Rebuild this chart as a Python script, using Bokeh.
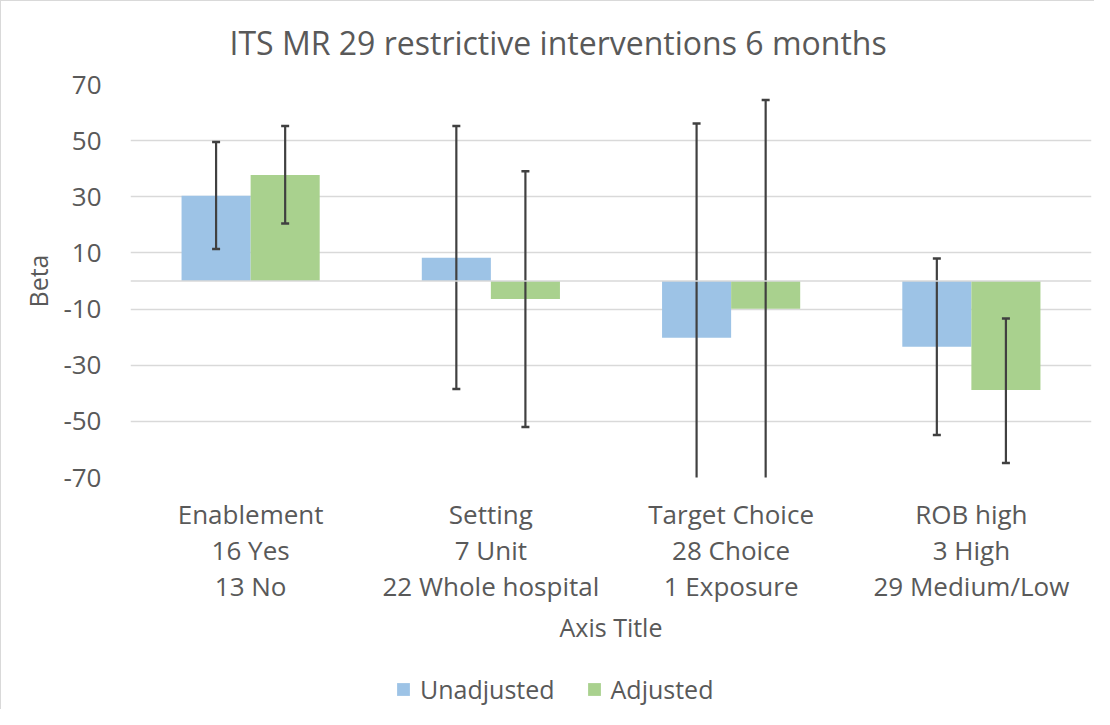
from bokeh.plotting import figure
from bokeh.layouts import column
from bokeh.models import (ColumnDataSource, FactorRange, FixedTicker, Legend, LegendItem,
                          Range1d, Span, PrintfTickFormatter)
from bokeh.transform import dodge
from bokeh.embed import file_html
from bokeh.resources import INLINE

# ---- data ----
categories = [
    "Enablement\n16 Yes\n13 No",
    "Setting\n7 Unit\n22 Whole hospital",
    "Target Choice\n28 Choice\n1 Exposure",
    "ROB high\n3 High\n29 Medium/Low",
]
unadjusted = [30.4, 8.3, -20.2, -23.4]
unadj_upper = [49.5, 55.2, 56.1, 8.0]
unadj_lower = [11.4, -38.5, -96.5, -54.9]
adjusted = [37.8, -6.4, -9.9, -38.8]
adj_upper = [55.2, 39.1, 64.5, -13.4]
adj_lower = [20.5, -52.0, -84.3, -64.8]
y_ticks = [-70, -50, -30, -10, 10, 30, 50, 70]
series_names = ["Unadjusted", "Adjusted"]

FONT = "Open Sans"
TXT = "#595959"
BLUE = "#9DC3E6"
GREEN = "#A9D18E"
ERR = "#404040"
GRID = "#D9D9D9"

src = ColumnDataSource(dict(
    cat=categories, unadj=unadjusted, uup=unadj_upper, ulo=unadj_lower,
    adj=adjusted, aup=adj_upper, alo=adj_lower,
))

p = figure(
    width=1094, height=669,
    x_range=FactorRange(factors=categories, range_padding=0),
    y_range=Range1d(-70, 70),
    output_backend="svg", toolbar_location=None,
    min_border_left=129, min_border_right=4, min_border_top=80, min_border_bottom=193,
)
p.outline_line_color = None
p.background_fill_color = "white"
p.border_fill_color = "white"
p.styles = {"border-top": "1px solid #D9D9D9", "border-left": "1px solid #D9D9D9"}

# title
p.title.text = "ITS MR 29 restrictive interventions 6 months"
p.title.text_font = FONT
p.title.text_font_size = "32px"
p.title.text_font_style = "normal"
p.title.text_color = TXT
p.title.text_line_height = 0.75
p.title.align = "left"
p.title.offset = 99
p.title.vertical_align = "top"
p.title.standoff = 38

# bars
BW = 0.2875
r1 = p.vbar(x=dodge("cat", -BW / 2, range=p.x_range), top="unadj", bottom=0, width=BW,
            source=src, fill_color=BLUE, line_color=None)
r2 = p.vbar(x=dodge("cat", BW / 2, range=p.x_range), top="adj", bottom=0, width=BW,
            source=src, fill_color=GREEN, line_color=None)

# zero line
p.add_layout(Span(location=0, dimension="width", line_color=GRID, line_width=1.5))

# error bars
for off, up, lo in [(-BW / 2, "uup", "ulo"), (BW / 2, "aup", "alo")]:
    xd = dodge("cat", off, range=p.x_range)
    p.segment(x0=xd, y0=lo, x1=xd, y1=up, source=src, line_color=ERR, line_width=2.2)
    p.scatter(x=xd, y=up, source=src, marker="dash", size=8, line_color=ERR, line_width=2.5)
    p.scatter(x=xd, y=lo, source=src, marker="dash", size=8, line_color=ERR, line_width=2.5)

# axes
p.yaxis.ticker = FixedTicker(ticks=y_ticks)
p.yaxis.formatter = PrintfTickFormatter(format="%d")
p.yaxis.axis_line_color = None
p.yaxis.major_tick_line_color = None
p.yaxis.minor_tick_line_color = None
p.yaxis.major_tick_out = 0
p.yaxis.major_tick_in = 0
p.yaxis.major_label_standoff = 29
p.yaxis.major_label_text_font = FONT
p.yaxis.major_label_text_font_size = "26px"
p.yaxis.major_label_text_color = TXT
p.yaxis.axis_label = "Beta"
p.yaxis.axis_label_text_font = FONT
p.yaxis.axis_label_text_font_size = "25px"
p.yaxis.axis_label_text_font_style = "normal"
p.yaxis.axis_label_text_color = TXT
p.yaxis.axis_label_standoff = 5

p.xaxis.axis_line_color = None
p.xaxis.major_tick_line_color = None
p.xaxis.minor_tick_line_color = None
p.xaxis.major_tick_out = 0
p.xaxis.major_tick_in = 0
p.xaxis.major_label_standoff = 18
p.xaxis.major_label_text_font = FONT
p.xaxis.major_label_text_font_size = "26px"
p.xaxis.major_label_text_color = TXT
p.xaxis.major_label_text_line_height = 1.0
p.xaxis.axis_label = "Axis Title"
p.xaxis.axis_label_text_font = FONT
p.xaxis.axis_label_text_font_size = "25px"
p.xaxis.axis_label_text_font_style = "normal"
p.xaxis.axis_label_text_color = TXT
p.xaxis.axis_label_standoff = 3

p.xgrid.grid_line_color = None
p.ygrid.grid_line_color = GRID
p.ygrid.grid_line_width = 1.5

# legend strip (separate small figure below the chart; its frame aligns with the chart's)
lf = figure(width=1094, height=40, x_range=Range1d(0, 1), y_range=Range1d(0, 1),
            output_backend="svg", toolbar_location=None,
            min_border_left=0, min_border_right=0, min_border_top=0, min_border_bottom=0)
lf.axis.visible = False
lf.grid.grid_line_color = None
lf.outline_line_color = None
lf.border_fill_color = "white"
lf.styles = {"border-left": "1px solid #D9D9D9"}
lr1 = lf.vbar(x=[-10], top=[-10], width=0.1, fill_color=BLUE, line_color=None)
lr2 = lf.vbar(x=[-10], top=[-10], width=0.1, fill_color=GREEN, line_color=None)
legend = Legend(
    items=[LegendItem(label=series_names[0], renderers=[lr1]),
           LegendItem(label=series_names[1], renderers=[lr2])],
    orientation="horizontal", location=(265, 3),
    label_text_font=FONT, label_text_font_size="25px", label_text_color=TXT,
    glyph_width=16, glyph_height=16, label_standoff=9, spacing=31,
    padding=0, margin=0, border_line_color=None, background_fill_alpha=0,
    label_height=30,
)
lf.add_layout(legend, "center")

layout = column(p, lf, spacing=0)
open("out.html", "w").write(file_html(layout, INLINE))
